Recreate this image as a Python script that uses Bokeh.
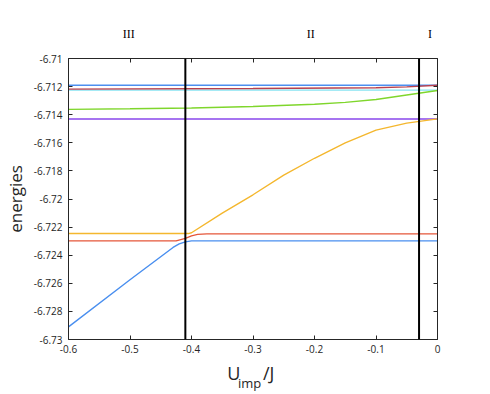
import numpy as np
from bokeh.plotting import figure
from bokeh.models import (Range1d, LinearAxis, FixedTicker, CustomJSTickFormatter, Span)
from bokeh.embed import file_html
from bokeh.resources import INLINE

# ---------------- data ----------------
x_flat = [-0.6, 0.0]

blue_top_y = [-6.7119, -6.7119]
cyan_y = [-6.71225, -6.71225]
purple_y = [-6.7143, -6.7143]

red_top_x = [-0.6, -0.3, -0.1, -0.05, 0.0]
red_top_y = [-6.71218, -6.71214, -6.71208, -6.71202, -6.7119]

green_x = [-0.6, -0.5, -0.4, -0.3, -0.2, -0.15, -0.1, -0.05, 0.0]
green_y = [-6.71362, -6.71358, -6.71352, -6.71342, -6.71326, -6.71312, -6.71292, -6.71260, -6.71228]

orange_x = [-0.6, -0.405, -0.40, -0.35, -0.30, -0.25, -0.20, -0.15, -0.10, -0.05, 0.0]
orange_y = [-6.72246, -6.72246, -6.7224, -6.7210, -6.7197, -6.7183, -6.7171, -6.7160, -6.7151, -6.7146, -6.7143]

red_bot_x = [-0.6, -0.425, -0.41, -0.40, -0.39, -0.375, 0.0]
red_bot_y = [-6.72298, -6.72298, -6.72280, -6.72262, -6.72252, -6.72248, -6.72248]

blue_bot_x = [-0.6, -0.5, -0.43, -0.42, -0.41, -0.40, 0.0]
blue_bot_y = [-6.7291, -6.72575, -6.72345, -6.72320, -6.72305, -6.72298, -6.72298]

region_x = [-0.41, -0.03]
region_labels = ["III", "II", "I"]
region_label_x = [-0.502, -0.206, -0.012]

x_ticks = [-0.6, -0.5, -0.4, -0.3, -0.2, -0.1, 0.0]
y_ticks = [-6.73, -6.728, -6.726, -6.724, -6.722, -6.72, -6.718, -6.716, -6.714, -6.712, -6.71]

# x axis title pieces: "U", subscript "imp", "/J"
xtitle_main = ["U", "/J"]
xtitle_main_x = [-0.3313, -0.2745]
xtitle_sub = ["imp"]
xtitle_sub_x = [-0.3055]

# ---------------- figure ----------------
FONT = "Open Sans"
AXC = "#262626"

p = figure(width=490, height=394, output_backend="svg", toolbar_location=None,
           x_range=Range1d(-0.6, 0.0), y_range=Range1d(-6.73, -6.71),
           min_border_left=63, min_border_right=53, min_border_top=58, min_border_bottom=51,
           x_axis_location=None, y_axis_location=None)
p.grid.visible = False
p.outline_line_color = None
p.background_fill_color = "white"
p.border_fill_color = "white"

xfmt = CustomJSTickFormatter(code="return String(Math.round(tick*10)/10);")
yfmt = CustomJSTickFormatter(code="return String(Math.round(tick*1000)/1000);")


def make_axis(ticks, fmt, labels=True, standoff=6):
    ax = LinearAxis(ticker=FixedTicker(ticks=ticks), formatter=fmt)
    ax.axis_line_color = AXC
    ax.axis_line_width = 1
    ax.major_tick_line_color = AXC
    ax.major_tick_in = 4
    ax.major_tick_out = 0
    ax.minor_tick_line_color = None
    ax.major_label_text_font = FONT
    ax.major_label_text_font_size = "10px"
    ax.major_label_text_color = AXC
    ax.major_label_standoff = standoff
    if not labels:
        ax.major_label_text_color = None
        ax.major_label_text_font_size = "1px"
        ax.major_label_standoff = 0
    return ax


def text_axis(ticks, texts, font, size, standoff, color=AXC):
    ax = LinearAxis(ticker=FixedTicker(ticks=ticks),
                    major_label_overrides={v: t for v, t in zip(ticks, texts)})
    ax.axis_line_color = None
    ax.major_tick_line_color = None
    ax.minor_tick_line_color = None
    ax.major_tick_in = 0
    ax.major_tick_out = 0
    ax.major_label_text_font = font
    ax.major_label_text_font_size = size
    ax.major_label_text_color = color
    ax.major_label_standoff = standoff
    return ax


p.add_layout(make_axis(x_ticks, xfmt, True, 5), "below")
p.add_layout(text_axis(xtitle_main_x, xtitle_main, FONT, "18px", 5), "below")
p.add_layout(text_axis(xtitle_sub_x, xtitle_sub, FONT, "13px", -14), "below")

left = make_axis(y_ticks, yfmt, True, 6)
left.axis_label = "energies"
left.axis_label_text_font = FONT
left.axis_label_text_font_size = "17px"
left.axis_label_text_font_style = "normal"
left.axis_label_text_color = AXC
left.axis_label_standoff = 4
p.add_layout(left, "left")
p.add_layout(make_axis(x_ticks, xfmt, False), "above")
p.add_layout(make_axis(y_ticks, yfmt, False), "right")

# region labels on an extra top axis
p.add_layout(text_axis(region_label_x, region_labels, "Liberation Serif", "12px", 18, "black"), "above")

LW = 1.4
p.line(x_flat, blue_top_y, line_color="#4d8ff0", line_width=LW)
p.line(x_flat, cyan_y, line_color="#86e3f2", line_width=LW)
p.line(red_top_x, red_top_y, line_color="#b8404e", line_width=LW)
p.line(green_x, green_y, line_color="#7fd62c", line_width=LW)
p.line(x_flat, purple_y, line_color="#a674f0", line_width=2)
p.line(orange_x, orange_y, line_color="#f4b72e", line_width=LW)
p.line(red_bot_x, red_bot_y, line_color="#e5573a", line_width=LW)
p.line(blue_bot_x, blue_bot_y, line_color="#4a8fef", line_width=LW)

for xv in region_x:
    p.add_layout(Span(location=xv, dimension="height", line_color="black", line_width=2))

open("out.html", "w").write(file_html(p, INLINE))
